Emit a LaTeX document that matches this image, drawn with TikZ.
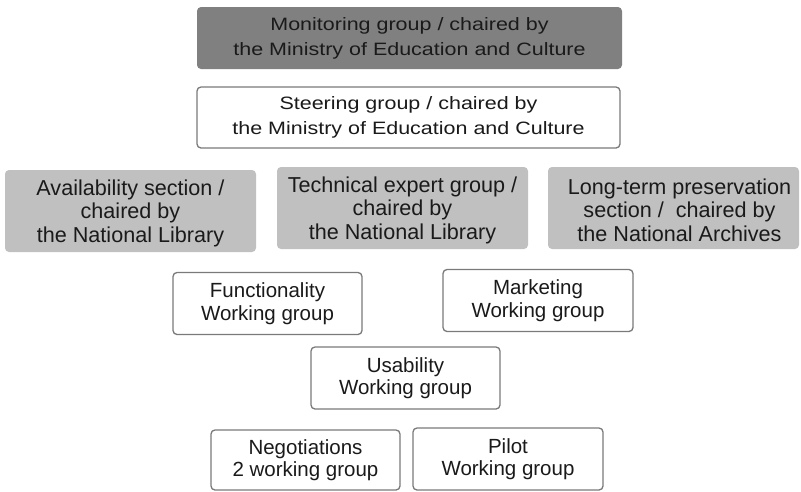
\documentclass[tikz,border=0pt]{standalone}
\usepackage{fontspec}
\setmainfont{Liberation Sans}
\newfontfamily\widefont[FakeStretch=1.2]{Liberation Sans}
\definecolor{darkc}{HTML}{808080}
\definecolor{lightc}{HTML}{C0C0C0}
\definecolor{bordc}{HTML}{7A7A7A}
\definecolor{textc}{HTML}{1A1A1A}
\begin{document}
\begin{tikzpicture}[x=1pt,y=-1pt,
  box/.style={rectangle, rounded corners=4pt, inner sep=0pt, align=center, text=textc},
  wbox/.style={box, draw=bordc, line width=1.3pt, fill=white},
  dbox/.style={box, fill=darkc},
  lbox/.style={box, fill=lightc},
  topfont/.style={font=\widefont\fontsize{17.9}{25}\selectfont},
  midfont/.style={font=\fontsize{21.6}{23.5}\selectfont},
  lowfont/.style={font=\fontsize{20.5}{22.5}\selectfont}]
\useasboundingbox (0,0) rectangle (801,491);
\node[dbox, topfont, minimum width=425pt, minimum height=62pt] (mon) at (409.5,38)
  {Monitoring group / chaired by\\the Ministry of Education and Culture};
\node[wbox, topfont, minimum width=423pt, minimum height=61pt] (ste) at (408.5,117.5)
  {Steering group / chaired by\\the Ministry of Education and Culture};
\node[lbox, midfont, minimum width=251pt, minimum height=82pt] (ava) at (130.5,211)
  {\rule{0pt}{20pt}Availability section /\\chaired by\\the National Library};
\node[lbox, midfont, minimum width=251pt, minimum height=82pt] (tec) at (402.5,208)
  {\rule{0pt}{20pt}Technical expert group /\\chaired by\\the National Library};
\node[lbox, midfont, minimum width=251pt, minimum height=82pt] (lon) at (673.5,208)
  {\rule{0pt}{20pt}\hspace*{12pt}Long-term preservation\\\hspace*{12pt}section /\ \ chaired by\\\hspace*{12pt}the National Archives};
\node[wbox, lowfont, minimum width=189pt, minimum height=62pt] (fun) at (267.5,303.5)
  {Functionality\\Working group};
\node[wbox, lowfont, minimum width=190pt, minimum height=62pt] (mar) at (538,300.5)
  {Marketing\\Working group};
\node[wbox, lowfont, minimum width=189pt, minimum height=62pt] (usa) at (405.5,378)
  {Usability\\Working group};
\node[wbox, lowfont, minimum width=189pt, minimum height=60pt] (neg) at (305.5,460)
  {Negotiations\\2 working group};
\node[wbox, lowfont, minimum width=190pt, minimum height=62pt] (pil) at (508,459)
  {Pilot\\Working group};
\end{tikzpicture}
\end{document}
